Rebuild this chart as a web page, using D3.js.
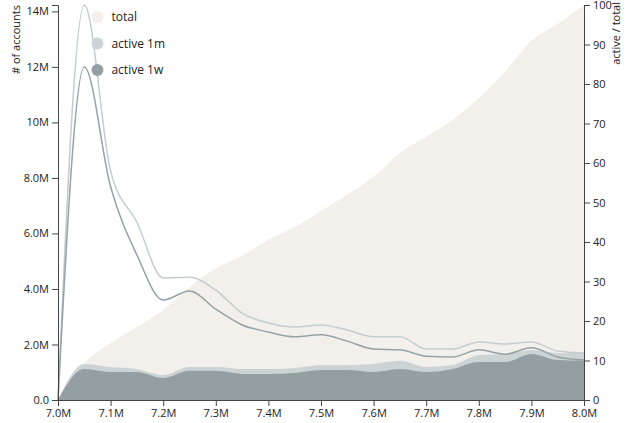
<!DOCTYPE html>
<html>
<head>
<meta charset="utf-8">
<script src="https://cdn.jsdelivr.net/npm/d3@7"></script>
<style>
  html, body { margin: 0; padding: 0; background: #fff; }
  svg { display: block; font-family: "Open Sans", sans-serif; }
</style>
</head>
<body>
<svg id="chart" width="627" height="423"></svg>
<script>
// x positions (account id / time index)
const xValues = [7.00e6, 7.05e6, 7.10e6, 7.15e6, 7.20e6, 7.25e6, 7.30e6, 7.35e6, 7.40e6, 7.45e6, 7.50e6,
                 7.55e6, 7.60e6, 7.65e6, 7.70e6, 7.75e6, 7.80e6, 7.85e6, 7.90e6, 7.95e6, 8.00e6];
// number of accounts (millions)
const totalM   = [0, 1.33, 2.05, 2.63, 3.24, 4.07, 4.75, 5.20, 5.77, 6.23, 6.80,
                  7.39, 8.04, 8.90, 9.48, 10.09, 10.88, 11.82, 12.94, 13.55, 14.23];
const active1mM = [0, 1.30, 1.19, 1.12, 0.90, 1.19, 1.19, 1.12, 1.12, 1.15, 1.26,
                   1.26, 1.30, 1.41, 1.19, 1.26, 1.62, 1.66, 1.80, 1.69, 1.69];
const active1wM = [0, 1.12, 1.01, 1.01, 0.79, 1.05, 1.05, 0.94, 0.94, 0.97, 1.08,
                   1.08, 1.01, 1.12, 1.01, 1.12, 1.37, 1.37, 1.66, 1.44, 1.41];
// active / total ratio (%)
const ratio1m = [0, 100, 58, 45, 30.9, 31.1, 27.8, 22, 19.5, 18.5, 19,
                 17.7, 16, 16, 12.9, 12.9, 14.7, 14.2, 14.7, 12.4, 11.9];
const ratio1w = [0, 84.3, 54, 36.7, 25.3, 27.6, 23, 19, 17.2, 16, 16.5,
                 14.9, 12.9, 12.7, 11.1, 10.9, 12.7, 11.6, 13.2, 10.9, 10.1];
const legendLabels = ["total", "active 1m", "active 1w"];
const colors = { total: "#f3f0eb", a1m: "#ccd3d5", a1w: "#939fa3", l1m: "#c3cdd0", l1w: "#96a2a6" };

const W = 627, H = 423;
const margin = { top: 5, right: 43, bottom: 23, left: 58 };
const svg = d3.select("#chart");
const g = svg.append("g").attr("transform", `translate(${margin.left},${margin.top})`);
const iw = W - margin.left - margin.right, ih = H - margin.top - margin.bottom;

const data = xValues.map((x, i) => ({
  x, total: totalM[i] * 1e6, a1m: active1mM[i] * 1e6, a1w: active1wM[i] * 1e6,
  r1m: ratio1m[i], r1w: ratio1w[i]
}));

const x = d3.scaleLinear().domain(d3.extent(xValues)).range([0, iw]);
const y = d3.scaleLinear().domain([0, d3.max(data, d => d.total)]).range([ih, 0]);
const yR = d3.scaleLinear().domain([0, 100]).range([ih, 0]);

const curve = d3.curveMonotoneX;
const area = key => d3.area().curve(curve).x(d => x(d.x)).y0(ih).y1(d => y(d[key]));
const line = key => d3.line().curve(curve).x(d => x(d.x)).y(d => yR(d[key]));

g.append("path").datum(data).attr("d", area("total")).attr("fill", colors.total);
g.append("path").datum(data).attr("d", area("a1m")).attr("fill", colors.a1m);
g.append("path").datum(data).attr("d", area("a1w")).attr("fill", colors.a1w);

g.append("path").datum(data).attr("d", line("r1m")).attr("fill", "none")
  .attr("stroke", colors.l1m).attr("stroke-width", 1.5);
g.append("path").datum(data).attr("d", line("r1w")).attr("fill", "none")
  .attr("stroke", colors.l1w).attr("stroke-width", 1.5);

const fmt = d3.format(".2s");
const xAxis = g.append("g").attr("transform", `translate(0,${ih})`)
  .call(d3.axisBottom(x).tickValues(d3.range(7.0e6, 8.0e6 + 1, 1e5)).tickFormat(fmt).tickSizeOuter(0));
const yAxis = g.append("g")
  .call(d3.axisLeft(y).tickValues(d3.range(0, 14e6 + 1, 2e6)).tickFormat(fmt).tickSizeOuter(6));
const yAxisR = g.append("g").attr("transform", `translate(${iw},0)`)
  .call(d3.axisRight(yR).ticks(10).tickSizeOuter(6));

[xAxis, yAxis, yAxisR].forEach(a => {
  a.selectAll("text").attr("font-size", 11).attr("fill", "#222").attr("font-family", "Open Sans, sans-serif");
  a.selectAll("line, path").attr("stroke", "#444");
});

g.append("text").attr("transform", "rotate(-90)")
  .attr("x", 0).attr("y", -38).attr("text-anchor", "end")
  .attr("font-size", 11).attr("fill", "#222").text("# of accounts");
g.append("text").attr("transform", `translate(${iw + 36},0) rotate(-90)`)
  .attr("x", 3).attr("y", 0).attr("text-anchor", "end")
  .attr("font-size", 11).attr("fill", "#222").text("active / total");

const legendColors = [colors.total, colors.a1m, colors.a1w];
const lg = g.append("g").attr("transform", `translate(${x(7.075e6)},12)`);
legendLabels.forEach((t, i) => {
  const row = lg.append("g").attr("transform", `translate(0,${i * 26.5})`);
  row.append("circle").attr("r", 6).attr("fill", legendColors[i]);
  row.append("text").attr("x", 14).attr("dy", "0.35em").attr("font-size", 12).attr("fill", "#222").text(t);
});
</script>
</body>
</html>
